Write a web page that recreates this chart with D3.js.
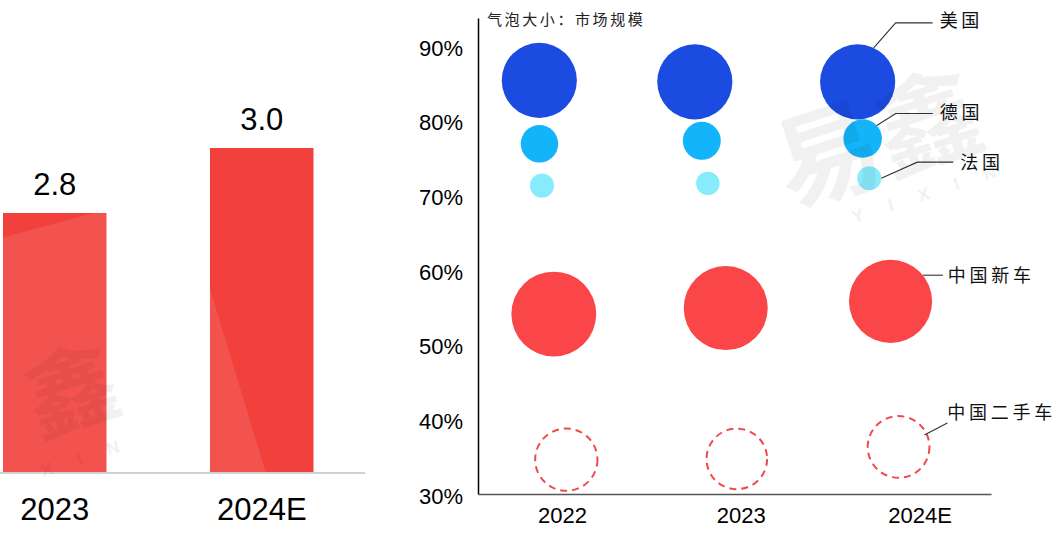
<!DOCTYPE html>
<html><head><meta charset="utf-8">
<script src="https://cdn.jsdelivr.net/npm/d3@7"></script>
<style>
html,body{margin:0;padding:0;background:#fff;}
svg{display:block;}
</style></head><body>
<svg id="chart" width="1061" height="533"></svg>
<script>
// ---------- Left (cropped) bar chart data ----------
const barCategories = ["2023", "2024E"];
const barValues = [2.8, 3.0];

// ---------- Bubble chart data ----------
const yearLabels = ["2022", "2023", "2024E"];
const yearTicks = [2022, 2023, 2024];
const yTicks = [30, 40, 50, 60, 70, 80, 90];
const bubbleTitle = "气泡大小：市场规模";

const seriesNames = ["美国", "德国", "法国", "中国新车", "中国二手车"];
// x position (year axis) of each bubble
const usX = [2021.873, 2022.743, 2023.654];
const deX = [2021.874, 2022.782, 2023.682];
const frX = [2021.888, 2022.816, 2023.719];
const cnNewX = [2021.954, 2022.916, 2023.838];
const cnUsedX = [2022.024, 2022.978, 2023.883];
// y value (%)
const usY = [85.4, 85.2, 85.2];
const deY = [76.9, 77.3, 77.6];
const frY = [71.3, 71.6, 72.3];
const cnNewY = [54.1, 54.9, 55.8];
const cnUsedY = [34.6, 34.7, 36.3];
// bubble size: market scale (relative index)
const usSize = [80, 80, 80];
const deSize = [20, 20.5, 21];
const frSize = [8.2, 7.8, 8.2];
const cnNewSize = [102, 100, 98];
const cnUsedSize = [55, 52, 54];

const series = [
  {name: seriesNames[0], xs: usX, ys: usY, sizes: usSize, fill: "#1b4be1", dashed: false},
  {name: seriesNames[1], xs: deX, ys: deY, sizes: deSize, fill: "#14b4fa", dashed: false},
  {name: seriesNames[2], xs: frX, ys: frY, sizes: frSize, fill: "#88ebfc", dashed: false},
  {name: seriesNames[3], xs: cnNewX, ys: cnNewY, sizes: cnNewSize, fill: "#fa4648", dashed: false},
  {name: seriesNames[4], xs: cnUsedX, ys: cnUsedY, sizes: cnUsedSize, fill: "none", dashed: true}
];

const svg = d3.select("#chart");
const latin = "Liberation Sans, Arial, sans-serif";
const cjk = "'Noto Sans CJK SC', sans-serif";

// ================= LEFT BAR CHART =================
const xb = d3.scaleBand().domain(barCategories).range([-48.75, 365.25])
  .paddingInner(0.5).paddingOuter(0.25);
const yb = d3.scaleLinear().domain([2, 3]).range([473, 148]);

const left = svg.append("g");
left.selectAll("rect.bar").data(barValues).join("rect")
  .attr("class", "bar")
  .attr("x", (d, i) => xb(barCategories[i]))
  .attr("width", xb.bandwidth())
  .attr("y", d => yb(d))
  .attr("height", d => yb.range()[0] - yb(d))
  .attr("fill", "#f2403c");

// translucent watermark panel (lightens part of the bars)
left.append("path")
  .attr("d", "M-10,241 L180,190 L268,480 L-10,480 Z")
  .attr("fill", "#fff").attr("opacity", 0.1);

left.append("line")
  .attr("x1", 0).attr("x2", xb.range()[1])
  .attr("y1", yb.range()[0]).attr("y2", yb.range()[0])
  .attr("stroke", "#d2d2d2").attr("stroke-width", 2);

left.selectAll("text.val").data(barValues).join("text")
  .attr("class", "val")
  .attr("x", (d, i) => xb(barCategories[i]) + xb.bandwidth() / 2)
  .attr("y", d => yb(d) - 18)
  .attr("text-anchor", "middle")
  .style("font-family", latin).style("font-size", "31px").attr("fill", "#000")
  .text(d => d.toFixed(1));

left.selectAll("text.cat").data(barCategories).join("text")
  .attr("class", "cat")
  .attr("x", d => xb(d) + xb.bandwidth() / 2)
  .attr("y", 520)
  .attr("text-anchor", "middle")
  .style("font-family", latin).style("font-size", "31px").attr("fill", "#000")
  .text(d => d);

// ================= BUBBLE CHART =================
const x = d3.scaleLinear().domain([2021.53, 2024.40]).range([478, 991]);
const y = d3.scaleLinear().domain([30, 93.75]).range([494, 18]);
const r = d3.scaleSqrt().domain([0, 100]).range([0, 42]);

const right = svg.append("g");

// watermarks
function watermark(g, cx, cy, mainText, subText, subDx, size) {
  const w = g.append("g").attr("transform", `translate(${cx},${cy}) rotate(-18)`);
  w.append("text").attr("text-anchor", "middle").attr("dy", "0.35em")
    .style("font-family", cjk).style("font-weight", "bold").style("font-size", size + "px")
    .attr("fill", "#000").attr("opacity", 0.05).text(mainText);
  w.append("text").attr("x", subDx).attr("y", 72).attr("text-anchor", "middle")
    .style("font-family", latin).style("font-weight", "bold").style("font-size", "18px")
    .style("letter-spacing", "26px")
    .attr("fill", "#000").attr("opacity", 0.05).text(subText);
}

// axes
const yAxis = d3.axisLeft(y).tickValues(yTicks).tickFormat(d => d + "%")
  .tickSize(0).tickPadding(15);
const gy = right.append("g").attr("transform", `translate(${x.range()[0]},0)`).call(yAxis);
gy.select(".domain").attr("stroke", "#000").attr("stroke-width", 1.5);
gy.selectAll("text").attr("dy", "0.41em")
  .style("font-family", latin).style("font-size", "22px").attr("fill", "#000");

const xAxis = d3.axisBottom(x).tickValues(yearTicks).tickFormat((d, i) => yearLabels[i])
  .tickSize(0).tickPadding(13.5);
const gx = right.append("g").attr("transform", `translate(0,${y.range()[0]})`).call(xAxis);
gx.select(".domain").attr("stroke", "#555").attr("stroke-width", 1.5);
gx.selectAll("text")
  .style("font-family", latin).style("font-size", "22px").attr("fill", "#000");

// title
right.append("text").attr("x", 487).attr("y", 20).attr("dy", "0.36em")
  .style("font-family", cjk).style("font-size", "15px").style("letter-spacing", "2.6px")
  .attr("fill", "#222").text(bubbleTitle);

// bubbles
const pts = [];
series.forEach((s, si) => s.xs.forEach((xv, i) => pts.push({s, si, i, xv, yv: s.ys[i], size: s.sizes[i]})));

right.selectAll("circle.b").data(pts).join("circle")
  .attr("class", "b")
  .attr("cx", d => x(d.xv)).attr("cy", d => y(d.yv)).attr("r", d => r(d.size))
  .attr("fill", d => d.s.fill)
  .attr("stroke", d => d.s.dashed ? "#f04a4a" : "none")
  .attr("stroke-width", d => d.s.dashed ? 2 : 0)
  .attr("stroke-dasharray", d => d.s.dashed ? "7,5" : null);

watermark(svg, 878, 140, "易鑫", "YIXIN", 40, 105);
watermark(svg, 72, 392, "鑫", "XIN", 0, 92);

// annotations (attached to the 2024E bubble of each series)
const annotations = [
  {si: 0, angle: -64.8, rf: 1.0, elbow: [22, -25], hlen: 37, gap: 7, tdy: -2},
  {si: 1, angle: -42.9, rf: 1.0, elbow: [19, -12], hlen: 37, gap: 7, tdy: -1},
  {si: 2, angle: 0, rf: 1.0, elbow: [36, -16], hlen: 36, gap: 7, tdy: 0},
  {si: 3, angle: -39, rf: 1.0, elbow: [0, 0], hlen: 20, gap: 5, tdy: 0},
  {si: 4, angle: -24.8, rf: 0.92, elbow: [23, -12], hlen: 0, gap: 0, tdy: -11}
];
const last = yearTicks.length - 1;
annotations.forEach(a => {
  const s = series[a.si];
  const cx = x(s.xs[last]), cy = y(s.ys[last]), rr = r(s.sizes[last]) * a.rf;
  const th = a.angle * Math.PI / 180;
  const p0 = [cx + rr * Math.cos(th), cy + rr * Math.sin(th)];
  const p1 = [p0[0] + a.elbow[0], p0[1] + a.elbow[1]];
  const p2 = [p1[0] + a.hlen, p1[1]];
  right.append("path")
    .attr("d", d3.line()([p0, p1, p2]))
    .attr("fill", "none").attr("stroke", "#333").attr("stroke-width", 1.1);
  right.append("text")
    .attr("x", p2[0] + a.gap).attr("y", p2[1] + a.tdy).attr("dy", "0.36em")
    .style("font-family", cjk).style("font-size", "18px").style("letter-spacing", "3.7px")
    .attr("fill", "#111").text(s.name);
});
</script>
</body></html>
